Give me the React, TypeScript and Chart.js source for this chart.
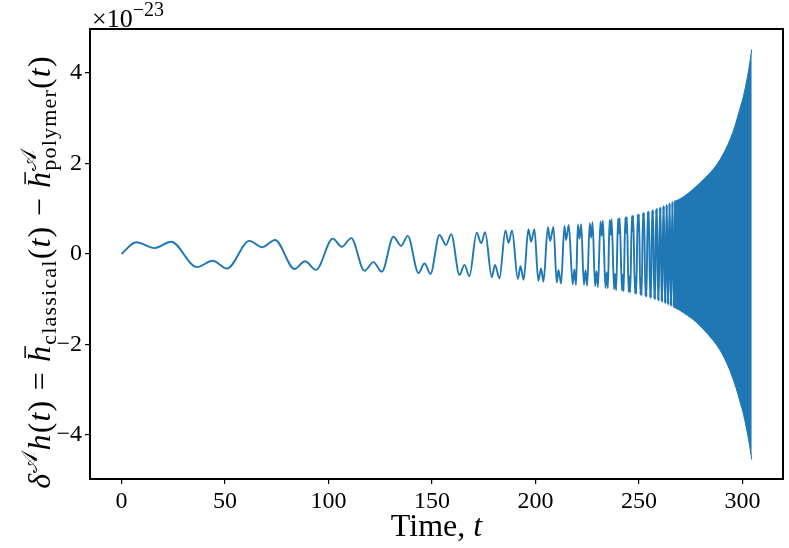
import React, { useEffect, useRef } from 'react';
import { Chart, registerables } from 'chart.js';

Chart.register(...registerables);

// ---------------- data (values in units of 1e-23) ----------------
// resolved oscillation: extrema
const signalT = [
  0, 7.1, 16, 24, 36.4, 44.1, 51, 61.8, 68, 74.2, 83.6, 88.7, 94, 102.1, 106.4, 111,
  117.4, 121.7, 125.8, 131.4, 135.1, 138.3, 143.5, 146.4, 149.3, 153.6, 156.8, 159.3,
  163.3, 165.7, 168.1, 171.6, 173.8, 175.7, 178.9, 180.5, 182.6, 185.5, 187, 188.7,
  191.5, 192.8, 194.3, 196.6, 197.9, 199.5, 201.4, 202.7, 203.9, 206, 207.1, 208.7,
  210.3, 211.1, 212.4, 214, 214.8, 216.1,
];
const signalY = [
  0, 0.26, 0.13, 0.27, -0.29, -0.15, -0.32, 0.29, 0.15, 0.31, -0.33, -0.16, -0.35, 0.34, 0.16, 0.35,
  -0.37, -0.18, -0.39, 0.38, 0.18, 0.40, -0.42, -0.21, -0.44, 0.42, 0.20, 0.44,
  -0.46, -0.24, -0.49, 0.47, 0.24, 0.48, -0.51, -0.24, -0.54, 0.52, 0.25, 0.52,
  -0.55, -0.27, -0.57, 0.55, 0.27, 0.55, -0.59, -0.32, -0.61, 0.59, 0.29, 0.60,
  -0.63, -0.35, -0.65, 0.62, 0.31, 0.64,
];
// fast beating part (double peaks / double troughs)
const beatT = [
  218.0, 218.8, 219.6, 220.5, 221.3, 222.1, 223.4, 224.2, 225.0, 226.2, 226.9, 227.6,
  228.8, 229.5, 230.2, 231.4, 232.0, 232.6, 233.8, 234.4, 235.0, 235.8, 236.3, 236.8,
  238.0, 238.5, 239.0, 239.9, 240.3, 240.7, 241.8, 242.2, 242.6, 243.4, 243.8, 244.2,
  245.0, 245.4, 245.8, 246.6, 246.9, 247.2, 248.1, 248.4, 248.7, 249.4, 249.7, 250.0,
  250.7, 251.0, 251.3, 251.95, 252.2, 252.45, 253.15, 253.4, 253.65, 254.25, 254.5, 254.75,
  255.4, 255.6, 255.8, 256.4, 256.6, 256.8, 257.4, 257.6, 257.8, 258.3, 258.5, 258.7,
  259.25, 259.4, 259.55, 260.15, 260.3, 260.45, 260.95, 261.1, 261.25, 261.75, 261.9, 262.05,
  262.55, 262.7, 262.85, 263.3, 263.4, 263.5, 264.0, 264.1, 264.2, 264.7, 264.8, 264.9,
  265.4, 265.5, 265.6, 266.1, 266.2, 266.3, 266.8, 266.9, 267.0, 267.5, 267.6, 267.7,
];
const beatY = [
  -0.67, -0.34, -0.68, 0.65, 0.34, 0.66, -0.68, -0.36, -0.70, 0.68, 0.36, 0.70,
  -0.71, -0.38, -0.73, 0.72, 0.40, 0.74, -0.75, -0.41, -0.76, 0.75, 0.42, 0.77,
  -0.78, -0.44, -0.80, 0.78, 0.45, 0.79, -0.81, -0.46, -0.82, 0.81, 0.47, 0.82,
  -0.84, -0.49, -0.85, 0.84, 0.50, 0.85, -0.87, -0.51, -0.88, 0.87, 0.52, 0.88,
  -0.90, -0.54, -0.91, 0.90, 0.55, 0.91, -0.93, -0.57, -0.94, 0.93, 0.58, 0.94,
  -0.96, -0.60, -0.97, 0.96, 0.61, 0.97, -0.99, -0.63, -1.00, 0.99, 0.64, 1.00,
  -1.02, -0.66, -1.03, 1.02, 0.67, 1.03, -1.05, -0.69, -1.06, 1.05, 0.70, 1.06,
  -1.08, -0.72, -1.09, 1.08, 0.73, 1.09, -1.11, -0.75, -1.12, 1.11, 0.76, 1.12,
  -1.14, -0.77, -1.15, 1.14, 0.78, 1.15, -1.17, -0.80, -1.18, 1.16, 0.80, 1.17,
];
// unresolved oscillation: upper / lower envelope
const envT = [267, 269.6, 273.5, 277.6, 281.5, 285.7, 288, 290.5, 293, 295.3, 297, 298.6, 300.3, 301.8, 303.2, 304.5];
const envUpper = [1.16, 1.21, 1.33, 1.49, 1.66, 1.86, 2.0, 2.19, 2.42, 2.68, 2.92, 3.18, 3.45, 3.77, 4.12, 4.52];
const envLower = [-1.18, -1.24, -1.36, -1.5, -1.68, -1.9, -2.04, -2.23, -2.47, -2.74, -2.97, -3.23, -3.5, -3.82, -4.16, -4.54];

const xTicks = [0, 50, 100, 150, 200, 250, 300];
const yTicks = [-4, -2, 0, 2, 4];
const xLimits = [-15.2, 319.6];
const yLimits = [-4.97, 4.97];

const BLUE = '#1f77b4';
const SERIF = '"Liberation Serif", "DejaVu Serif", serif';

// ---------------- rich text helper ----------------
type Seg = {
  text: string;
  size: number;
  italic?: boolean;
  dy?: number;
  bar?: boolean;
  sup?: string;
  sub?: string;
  scriptSize?: number;
  supDy?: number;
  subDy?: number;
};

const fontOf = (size: number, italic?: boolean) => `${italic ? 'italic ' : ''}${size}px ${SERIF}`;

function richText(ctx: CanvasRenderingContext2D, segs: Seg[], draw: boolean, spacing = 0): number {
  let cx = 0;
  const sp = (t: string) => spacing * Array.from(t).length;
  for (const s of segs) {
    ctx.font = fontOf(s.size, s.italic);
    const w = ctx.measureText(s.text).width + sp(s.text);
    if (draw) {
      if (spacing) {
        let px = cx;
        for (const ch of Array.from(s.text)) {
          ctx.fillText(ch, px, s.dy || 0);
          px += ctx.measureText(ch).width + spacing;
        }
      } else {
        ctx.fillText(s.text, cx, s.dy || 0);
      }
      if (s.bar) {
        ctx.fillRect(cx + w * 0.22, -s.size * 0.8, w * 0.7, Math.max(1, s.size * 0.045));
      }
    }
    cx += w;
    if (s.sup || s.sub) {
      let w2 = 0;
      const ss = s.scriptSize || s.size * 0.7;
      ctx.font = fontOf(ss, false);
      for (const [t, d] of [[s.sup, s.supDy], [s.sub, s.subDy]] as [string | undefined, number | undefined][]) {
        if (!t) continue;
        let px = cx;
        for (const ch of Array.from(t)) {
          if (draw) ctx.fillText(ch, px, d || 0);
          px += ctx.measureText(ch).width + spacing;
        }
        w2 = Math.max(w2, px - cx);
      }
      cx += w2;
    }
  }
  return cx;
}

const M = 32;
const S = 22;
const yLabelSegs: Seg[] = [
  { text: 'δ', size: M, italic: true },
  { text: '𝒜', size: S, dy: -13 },
  { text: 'h', size: M, italic: true },
  { text: '(', size: M },
  { text: 't', size: M, italic: true },
  { text: ')', size: M },
  { text: ' = ', size: M },
  { text: 'h', size: M, italic: true, bar: true },
  { text: 'classical', size: S, dy: 6 },
  { text: '(', size: M },
  { text: 't', size: M, italic: true },
  { text: ')', size: M },
  { text: ' − ', size: M },
  { text: 'h', size: M, italic: true, bar: true, sup: '𝒜', sub: 'polymer', scriptSize: S, supDy: -14, subDy: 6 },
  { text: '(', size: M },
  { text: 't', size: M, italic: true },
  { text: ')', size: M },
];
const xLabelSegs: Seg[] = [
  { text: 'Time, ', size: 32 },
  { text: 't', size: 32, italic: true },
];
const offsetSegs: Seg[] = [
  { text: '×10', size: 26 },
  { text: '−23', size: 20, dy: -11 },
];

const framePlugin = {
  id: 'frame',
  afterDatasetsDraw(chart: any) {
    const { ctx, chartArea: a } = chart;
    ctx.save();
    ctx.strokeStyle = '#000';
    ctx.lineWidth = 2;
    ctx.strokeRect(a.left, a.top, a.right - a.left, a.bottom - a.top);
    ctx.restore();
  },
};

const labelPlugin = {
  id: 'labels',
  afterDraw(chart: any) {
    const { ctx, chartArea: a } = chart;
    ctx.save();
    ctx.fillStyle = '#000';
    ctx.textBaseline = 'alphabetic';
    ctx.textAlign = 'left';
    // x title
    const wx = richText(ctx, xLabelSegs, false);
    ctx.save();
    ctx.translate((a.left + a.right) / 2 - wx / 2, 536);
    richText(ctx, xLabelSegs, true);
    ctx.restore();
    // y title
    const wy = richText(ctx, yLabelSegs, false, 1.2);
    ctx.save();
    ctx.translate(50, 272 + wy / 2);
    ctx.rotate(-Math.PI / 2);
    richText(ctx, yLabelSegs, true, 1.2);
    ctx.restore();
    // offset text
    ctx.save();
    ctx.translate(a.left + 2, 27);
    richText(ctx, offsetSegs, true);
    ctx.restore();
    ctx.restore();
  },
};

const fmt = (v: number) => (v < 0 ? '−' + Math.abs(v) : String(v));

export default function App() {
  const ref = useRef<HTMLCanvasElement>(null);
  useEffect(() => {
    const canvas = ref.current;
    if (!canvas) return;
    const signal = [
      ...signalT.map((t, i) => ({ x: t, y: signalY[i] })),
      ...beatT.map((t, i) => ({ x: t, y: beatY[i] })),
    ];
    const upper = envT.map((t, i) => ({ x: t, y: envUpper[i] }));
    const lower = envT.map((t, i) => ({ x: t, y: envLower[i] }));
    const tickFont = { family: SERIF, size: 24 };
    const chart = new Chart(canvas, {
      type: 'line',
      data: {
        datasets: [
          {
            data: signal,
            borderColor: BLUE,
            borderWidth: 1.9,
            pointRadius: 0,
            cubicInterpolationMode: 'monotone',
            fill: false,
          },
          {
            data: upper,
            borderColor: BLUE,
            backgroundColor: BLUE,
            borderWidth: 1,
            pointRadius: 0,
            cubicInterpolationMode: 'monotone',
            fill: '+1',
          },
          {
            data: lower,
            borderColor: BLUE,
            borderWidth: 1,
            pointRadius: 0,
            cubicInterpolationMode: 'monotone',
            fill: false,
          },
        ],
      },
      options: {
        animation: false,
        responsive: false,
        devicePixelRatio: 1,
        events: [],
        layout: { padding: { top: 29, right: 6, left: 0, bottom: 0 } },
        plugins: { legend: { display: false }, tooltip: { enabled: false } },
        scales: {
          x: {
            type: 'linear',
            min: xLimits[0],
            max: xLimits[1],
            afterBuildTicks: (s: any) => {
              s.ticks = xTicks.map((v) => ({ value: v }));
            },
            afterFit: (s: any) => {
              s.height = 69;
            },
            ticks: {
              font: tickFont,
              color: '#000',
              padding: 3,
              maxRotation: 0,
              autoSkip: false,
              callback: (v: any) => fmt(Number(v)),
            },
            grid: { display: true, drawOnChartArea: false, drawTicks: true, tickLength: 5, color: '#000', lineWidth: 1.2 },
            border: { display: false },
          },
          y: {
            type: 'linear',
            min: yLimits[0],
            max: yLimits[1],
            afterBuildTicks: (s: any) => {
              s.ticks = yTicks.map((v) => ({ value: v }));
            },
            afterFit: (s: any) => {
              s.width = 90;
            },
            ticks: {
              font: tickFont,
              color: '#000',
              padding: 3,
              autoSkip: false,
              callback: (v: any) => fmt(Number(v)),
            },
            grid: { display: true, drawOnChartArea: false, drawTicks: true, tickLength: 5, color: '#000', lineWidth: 1.2 },
            border: { display: false },
          },
        },
      } as any,
      plugins: [framePlugin, labelPlugin],
    });
    return () => chart.destroy();
  }, []);
  return (
    <div style={{ position: 'absolute', left: 0, top: 0, width: 789, height: 548, background: '#fff' }}>
      <canvas ref={ref} width={789} height={548} style={{ display: 'block', width: 789, height: 548 }} />
    </div>
  );
}
